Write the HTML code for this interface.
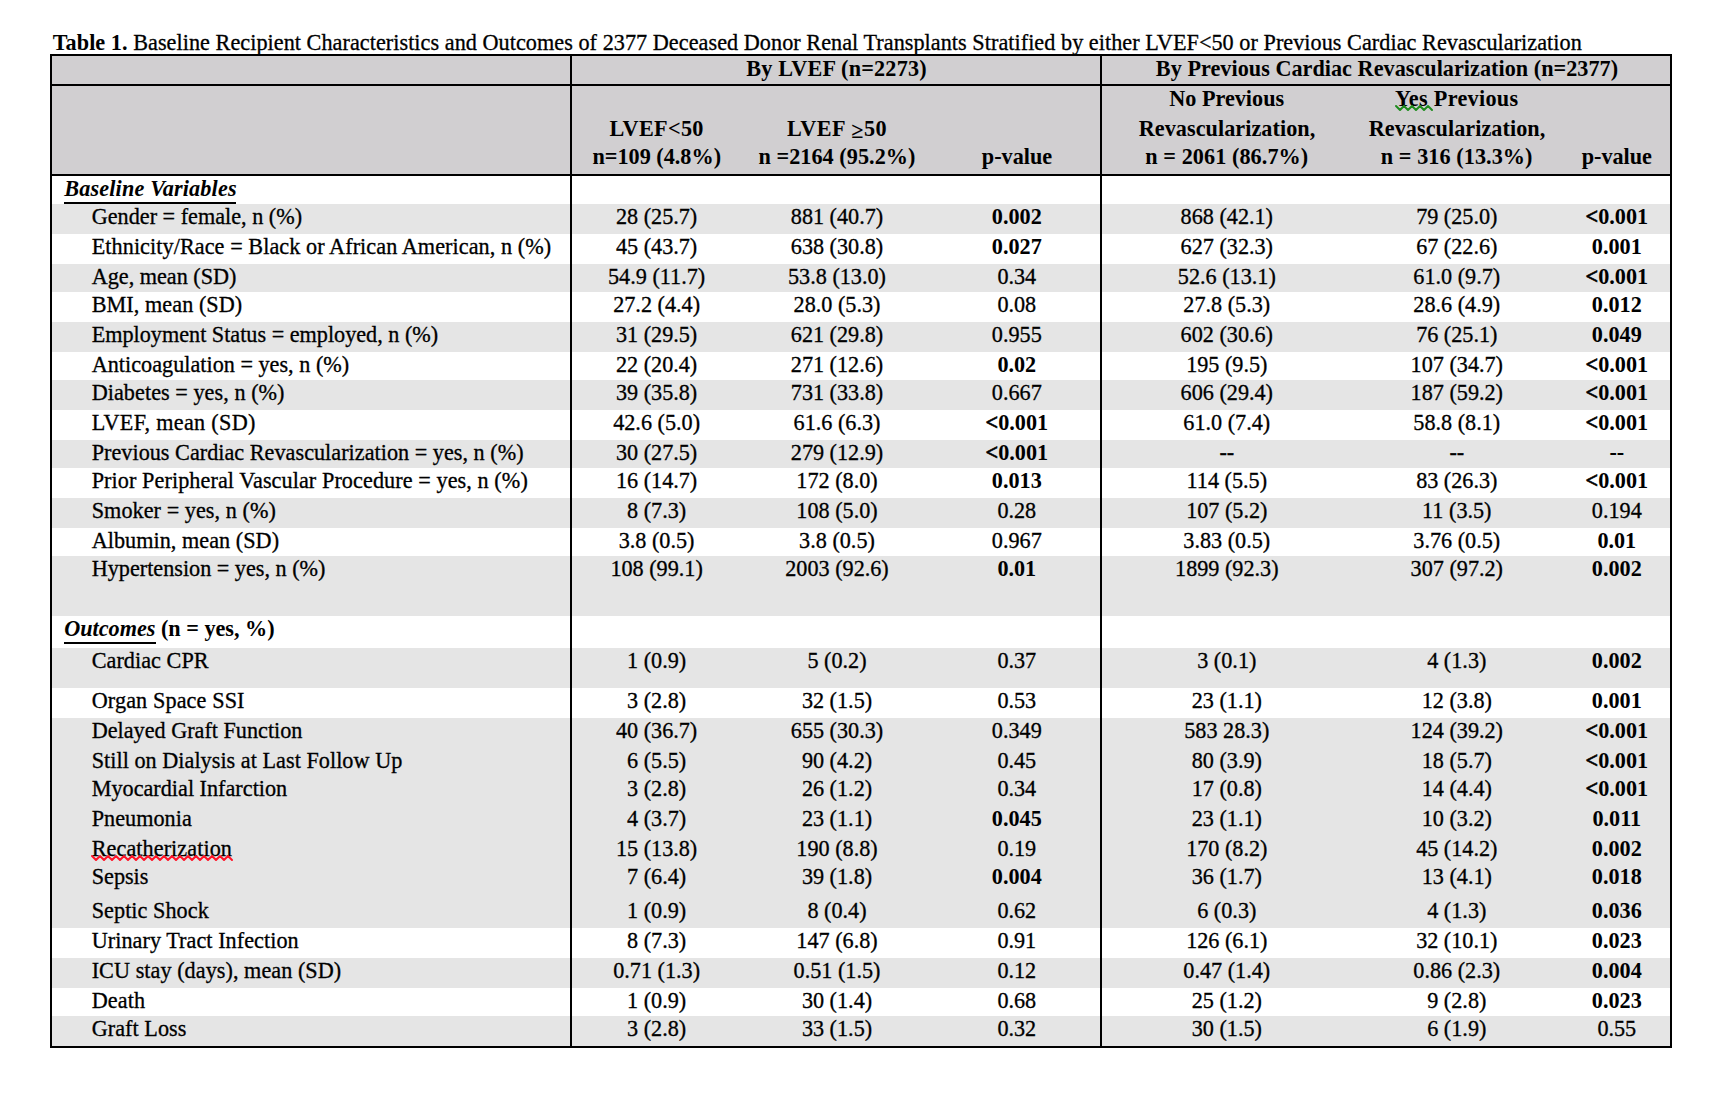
<!DOCTYPE html>
<html><head><meta charset="utf-8"><style>
html,body{margin:0;padding:0;background:#fff;width:1720px;height:1114px;overflow:hidden}
body{position:relative}
div{position:absolute;font-family:"Liberation Serif",serif;font-size:22.2px;line-height:30px;white-space:nowrap;color:#000;-webkit-text-stroke:0.3px #000}
i{position:absolute;display:block}
b{-webkit-text-stroke:0}
</style></head><body>
<i style="left:52px;top:56px;width:1618px;height:118px;background:#d1cfd1"></i>
<i style="left:52px;top:204px;width:1618px;height:30px;background:#e5e5e5"></i>
<i style="left:52px;top:264px;width:1618px;height:28px;background:#e5e5e5"></i>
<i style="left:52px;top:322px;width:1618px;height:30px;background:#e5e5e5"></i>
<i style="left:52px;top:380px;width:1618px;height:30px;background:#e5e5e5"></i>
<i style="left:52px;top:440px;width:1618px;height:28px;background:#e5e5e5"></i>
<i style="left:52px;top:498px;width:1618px;height:30px;background:#e5e5e5"></i>
<i style="left:52px;top:556px;width:1618px;height:60px;background:#e5e5e5"></i>
<i style="left:52px;top:648px;width:1618px;height:40px;background:#e5e5e5"></i>
<i style="left:52px;top:718px;width:1618px;height:210px;background:#e5e5e5"></i>
<i style="left:52px;top:958px;width:1618px;height:30px;background:#e5e5e5"></i>
<i style="left:52px;top:1016px;width:1618px;height:30px;background:#e5e5e5"></i>
<i style="left:50px;top:54px;width:1622px;height:2px;background:#000"></i>
<i style="left:50px;top:1046px;width:1622px;height:2px;background:#000"></i>
<i style="left:50px;top:54px;width:2px;height:994px;background:#000"></i>
<i style="left:1670px;top:54px;width:2px;height:994px;background:#000"></i>
<i style="left:570px;top:54px;width:2px;height:994px;background:#000"></i>
<i style="left:1100px;top:54px;width:2px;height:994px;background:#000"></i>
<i style="left:50px;top:84px;width:1622px;height:2px;background:#000"></i>
<i style="left:50px;top:174px;width:1622px;height:2px;background:#000"></i>
<div style="left:52.8px;top:28px;letter-spacing:0.048px;"><b>Table 1.</b> Baseline Recipient Characteristics and Outcomes of 2377 Deceased Donor Renal Transplants Stratified by either LVEF&lt;50 or Previous Cardiac Revascularization</div>
<div style="left:436.5px;top:54px;width:800px;text-align:center;letter-spacing:0.2px;font-weight:bold;-webkit-text-stroke:0;">By LVEF (n=2273)</div>
<div style="left:987.0px;top:54px;width:800px;text-align:center;letter-spacing:0.03px;font-weight:bold;-webkit-text-stroke:0;">By Previous Cardiac Revascularization (n=2377)</div>
<div style="left:256.6px;top:114px;width:800px;text-align:center;letter-spacing:0.33px;font-weight:bold;-webkit-text-stroke:0;">LVEF&lt;50</div>
<div style="left:256.79999999999995px;top:142px;width:800px;text-align:center;font-weight:bold;-webkit-text-stroke:0;">n=109 (4.8%)</div>
<div style="left:437.0px;top:114px;width:800px;text-align:center;letter-spacing:0.5px;font-weight:bold;-webkit-text-stroke:0;">LVEF <span style="position:relative;top:2px">&ge;</span>50</div>
<div style="left:437.0px;top:142px;width:800px;text-align:center;letter-spacing:0.05px;font-weight:bold;-webkit-text-stroke:0;">n =2164 (95.2%)</div>
<div style="left:617.0px;top:142px;width:800px;text-align:center;font-weight:bold;-webkit-text-stroke:0;">p-value</div>
<div style="left:826.7px;top:84px;width:800px;text-align:center;font-weight:bold;-webkit-text-stroke:0;">No Previous</div>
<div style="left:827.0px;top:114px;width:800px;text-align:center;letter-spacing:0.06px;font-weight:bold;-webkit-text-stroke:0;">Revascularization,</div>
<div style="left:826.8px;top:142px;width:800px;text-align:center;letter-spacing:0.08px;font-weight:bold;-webkit-text-stroke:0;">n = 2061 (86.7%)</div>
<div style="left:1056.7px;top:84px;width:800px;text-align:center;letter-spacing:0.3px;font-weight:bold;-webkit-text-stroke:0;">Yes Previous</div>
<div style="left:1057.0px;top:114px;width:800px;text-align:center;letter-spacing:0.06px;font-weight:bold;-webkit-text-stroke:0;">Revascularization,</div>
<div style="left:1056.7px;top:142px;width:800px;text-align:center;letter-spacing:0.07px;font-weight:bold;-webkit-text-stroke:0;">n = 316 (13.3%)</div>
<div style="left:1216.8px;top:142px;width:800px;text-align:center;font-weight:bold;-webkit-text-stroke:0;">p-value</div>
<div style="left:64.2px;top:174px;letter-spacing:0.17px;font-weight:bold;-webkit-text-stroke:0;"><span style="font-style:italic">Baseline Variables</span></div>
<i style="left:64px;top:202px;width:172px;height:2px;background:#000"></i>
<div style="left:64.2px;top:614px;font-weight:bold;-webkit-text-stroke:0;"><span style="font-style:italic">Outcomes</span> (n = yes, %)</div>
<i style="left:64px;top:642px;width:92px;height:2px;background:#000"></i>
<div style="left:91.7px;top:202px;letter-spacing:0.009px;">Gender = female, n (%)</div>
<div style="left:256.6px;top:202px;width:800px;text-align:center;">28 (25.7)</div>
<div style="left:437.0px;top:202px;width:800px;text-align:center;">881 (40.7)</div>
<div style="left:616.8px;top:202px;width:800px;text-align:center;font-weight:bold;-webkit-text-stroke:0;">0.002</div>
<div style="left:826.8px;top:202px;width:800px;text-align:center;">868 (42.1)</div>
<div style="left:1056.8px;top:202px;width:800px;text-align:center;">79 (25.0)</div>
<div style="left:1216.8px;top:202px;width:800px;text-align:center;font-weight:bold;-webkit-text-stroke:0;"><span style="-webkit-text-stroke:0.6px #000">&lt;</span>0.001</div>
<div style="left:91.7px;top:232px;letter-spacing:0.071px;">Ethnicity/Race = Black or African American, n (%)</div>
<div style="left:256.6px;top:232px;width:800px;text-align:center;">45 (43.7)</div>
<div style="left:437.0px;top:232px;width:800px;text-align:center;">638 (30.8)</div>
<div style="left:616.8px;top:232px;width:800px;text-align:center;font-weight:bold;-webkit-text-stroke:0;">0.027</div>
<div style="left:826.8px;top:232px;width:800px;text-align:center;">627 (32.3)</div>
<div style="left:1056.8px;top:232px;width:800px;text-align:center;">67 (22.6)</div>
<div style="left:1216.8px;top:232px;width:800px;text-align:center;font-weight:bold;-webkit-text-stroke:0;">0.001</div>
<div style="left:91.7px;top:262px;letter-spacing:-0.001px;">Age, mean (SD)</div>
<div style="left:256.6px;top:262px;width:800px;text-align:center;">54.9 (11.7)</div>
<div style="left:437.0px;top:262px;width:800px;text-align:center;">53.8 (13.0)</div>
<div style="left:616.8px;top:262px;width:800px;text-align:center;">0.34</div>
<div style="left:826.8px;top:262px;width:800px;text-align:center;">52.6 (13.1)</div>
<div style="left:1056.8px;top:262px;width:800px;text-align:center;">61.0 (9.7)</div>
<div style="left:1216.8px;top:262px;width:800px;text-align:center;font-weight:bold;-webkit-text-stroke:0;"><span style="-webkit-text-stroke:0.6px #000">&lt;</span>0.001</div>
<div style="left:91.7px;top:290px;letter-spacing:0.061px;">BMI, mean (SD)</div>
<div style="left:256.6px;top:290px;width:800px;text-align:center;">27.2 (4.4)</div>
<div style="left:437.0px;top:290px;width:800px;text-align:center;">28.0 (5.3)</div>
<div style="left:616.8px;top:290px;width:800px;text-align:center;">0.08</div>
<div style="left:826.8px;top:290px;width:800px;text-align:center;">27.8 (5.3)</div>
<div style="left:1056.8px;top:290px;width:800px;text-align:center;">28.6 (4.9)</div>
<div style="left:1216.8px;top:290px;width:800px;text-align:center;font-weight:bold;-webkit-text-stroke:0;">0.012</div>
<div style="left:91.7px;top:320px;letter-spacing:-0.001px;">Employment Status = employed, n (%)</div>
<div style="left:256.6px;top:320px;width:800px;text-align:center;">31 (29.5)</div>
<div style="left:437.0px;top:320px;width:800px;text-align:center;">621 (29.8)</div>
<div style="left:616.8px;top:320px;width:800px;text-align:center;">0.955</div>
<div style="left:826.8px;top:320px;width:800px;text-align:center;">602 (30.6)</div>
<div style="left:1056.8px;top:320px;width:800px;text-align:center;">76 (25.1)</div>
<div style="left:1216.8px;top:320px;width:800px;text-align:center;font-weight:bold;-webkit-text-stroke:0;">0.049</div>
<div style="left:91.7px;top:350px;letter-spacing:0.014px;">Anticoagulation = yes, n (%)</div>
<div style="left:256.6px;top:350px;width:800px;text-align:center;">22 (20.4)</div>
<div style="left:437.0px;top:350px;width:800px;text-align:center;">271 (12.6)</div>
<div style="left:616.8px;top:350px;width:800px;text-align:center;font-weight:bold;-webkit-text-stroke:0;">0.02</div>
<div style="left:826.8px;top:350px;width:800px;text-align:center;">195 (9.5)</div>
<div style="left:1056.8px;top:350px;width:800px;text-align:center;">107 (34.7)</div>
<div style="left:1216.8px;top:350px;width:800px;text-align:center;font-weight:bold;-webkit-text-stroke:0;"><span style="-webkit-text-stroke:0.6px #000">&lt;</span>0.001</div>
<div style="left:91.7px;top:378px;letter-spacing:0.050px;">Diabetes = yes, n (%)</div>
<div style="left:256.6px;top:378px;width:800px;text-align:center;">39 (35.8)</div>
<div style="left:437.0px;top:378px;width:800px;text-align:center;">731 (33.8)</div>
<div style="left:616.8px;top:378px;width:800px;text-align:center;">0.667</div>
<div style="left:826.8px;top:378px;width:800px;text-align:center;">606 (29.4)</div>
<div style="left:1056.8px;top:378px;width:800px;text-align:center;">187 (59.2)</div>
<div style="left:1216.8px;top:378px;width:800px;text-align:center;font-weight:bold;-webkit-text-stroke:0;"><span style="-webkit-text-stroke:0.6px #000">&lt;</span>0.001</div>
<div style="left:91.7px;top:408px;letter-spacing:0.300px;">LVEF, mean (SD)</div>
<div style="left:256.6px;top:408px;width:800px;text-align:center;">42.6 (5.0)</div>
<div style="left:437.0px;top:408px;width:800px;text-align:center;">61.6 (6.3)</div>
<div style="left:616.8px;top:408px;width:800px;text-align:center;font-weight:bold;-webkit-text-stroke:0;"><span style="-webkit-text-stroke:0.6px #000">&lt;</span>0.001</div>
<div style="left:826.8px;top:408px;width:800px;text-align:center;">61.0 (7.4)</div>
<div style="left:1056.8px;top:408px;width:800px;text-align:center;">58.8 (8.1)</div>
<div style="left:1216.8px;top:408px;width:800px;text-align:center;font-weight:bold;-webkit-text-stroke:0;"><span style="-webkit-text-stroke:0.6px #000">&lt;</span>0.001</div>
<div style="left:91.7px;top:438px;letter-spacing:0.022px;">Previous Cardiac Revascularization = yes, n (%)</div>
<div style="left:256.6px;top:438px;width:800px;text-align:center;">30 (27.5)</div>
<div style="left:437.0px;top:438px;width:800px;text-align:center;">279 (12.9)</div>
<div style="left:616.8px;top:438px;width:800px;text-align:center;font-weight:bold;-webkit-text-stroke:0;"><span style="-webkit-text-stroke:0.6px #000">&lt;</span>0.001</div>
<div style="left:826.8px;top:438px;width:800px;text-align:center;">--</div>
<div style="left:1056.8px;top:438px;width:800px;text-align:center;">--</div>
<div style="left:1216.8px;top:438px;width:800px;text-align:center;font-weight:bold;-webkit-text-stroke:0;">--</div>
<div style="left:91.7px;top:466px;letter-spacing:0.081px;">Prior Peripheral Vascular Procedure = yes, n (%)</div>
<div style="left:256.6px;top:466px;width:800px;text-align:center;">16 (14.7)</div>
<div style="left:437.0px;top:466px;width:800px;text-align:center;">172 (8.0)</div>
<div style="left:616.8px;top:466px;width:800px;text-align:center;font-weight:bold;-webkit-text-stroke:0;">0.013</div>
<div style="left:826.8px;top:466px;width:800px;text-align:center;">114 (5.5)</div>
<div style="left:1056.8px;top:466px;width:800px;text-align:center;">83 (26.3)</div>
<div style="left:1216.8px;top:466px;width:800px;text-align:center;font-weight:bold;-webkit-text-stroke:0;"><span style="-webkit-text-stroke:0.6px #000">&lt;</span>0.001</div>
<div style="left:91.7px;top:496px;letter-spacing:0.056px;">Smoker = yes, n (%)</div>
<div style="left:256.6px;top:496px;width:800px;text-align:center;">8 (7.3)</div>
<div style="left:437.0px;top:496px;width:800px;text-align:center;">108 (5.0)</div>
<div style="left:616.8px;top:496px;width:800px;text-align:center;">0.28</div>
<div style="left:826.8px;top:496px;width:800px;text-align:center;">107 (5.2)</div>
<div style="left:1056.8px;top:496px;width:800px;text-align:center;">11 (3.5)</div>
<div style="left:1216.8px;top:496px;width:800px;text-align:center;">0.194</div>
<div style="left:91.7px;top:526px;letter-spacing:0.036px;">Albumin, mean (SD)</div>
<div style="left:256.6px;top:526px;width:800px;text-align:center;">3.8 (0.5)</div>
<div style="left:437.0px;top:526px;width:800px;text-align:center;">3.8 (0.5)</div>
<div style="left:616.8px;top:526px;width:800px;text-align:center;">0.967</div>
<div style="left:826.8px;top:526px;width:800px;text-align:center;">3.83 (0.5)</div>
<div style="left:1056.8px;top:526px;width:800px;text-align:center;">3.76 (0.5)</div>
<div style="left:1216.8px;top:526px;width:800px;text-align:center;font-weight:bold;-webkit-text-stroke:0;">0.01</div>
<div style="left:91.7px;top:554px;">Hypertension = yes, n (%)</div>
<div style="left:256.6px;top:554px;width:800px;text-align:center;">108 (99.1)</div>
<div style="left:437.0px;top:554px;width:800px;text-align:center;">2003 (92.6)</div>
<div style="left:616.8px;top:554px;width:800px;text-align:center;font-weight:bold;-webkit-text-stroke:0;">0.01</div>
<div style="left:826.8px;top:554px;width:800px;text-align:center;">1899 (92.3)</div>
<div style="left:1056.8px;top:554px;width:800px;text-align:center;">307 (97.2)</div>
<div style="left:1216.8px;top:554px;width:800px;text-align:center;font-weight:bold;-webkit-text-stroke:0;">0.002</div>
<div style="left:91.7px;top:646px;letter-spacing:0.040px;">Cardiac CPR</div>
<div style="left:256.6px;top:646px;width:800px;text-align:center;">1 (0.9)</div>
<div style="left:437.0px;top:646px;width:800px;text-align:center;">5 (0.2)</div>
<div style="left:616.8px;top:646px;width:800px;text-align:center;">0.37</div>
<div style="left:826.8px;top:646px;width:800px;text-align:center;">3 (0.1)</div>
<div style="left:1056.8px;top:646px;width:800px;text-align:center;">4 (1.3)</div>
<div style="left:1216.8px;top:646px;width:800px;text-align:center;font-weight:bold;-webkit-text-stroke:0;">0.002</div>
<div style="left:91.7px;top:686px;letter-spacing:0.114px;">Organ Space SSI</div>
<div style="left:256.6px;top:686px;width:800px;text-align:center;">3 (2.8)</div>
<div style="left:437.0px;top:686px;width:800px;text-align:center;">32 (1.5)</div>
<div style="left:616.8px;top:686px;width:800px;text-align:center;">0.53</div>
<div style="left:826.8px;top:686px;width:800px;text-align:center;">23 (1.1)</div>
<div style="left:1056.8px;top:686px;width:800px;text-align:center;">12 (3.8)</div>
<div style="left:1216.8px;top:686px;width:800px;text-align:center;font-weight:bold;-webkit-text-stroke:0;">0.001</div>
<div style="left:91.7px;top:716px;">Delayed Graft Function</div>
<div style="left:256.6px;top:716px;width:800px;text-align:center;">40 (36.7)</div>
<div style="left:437.0px;top:716px;width:800px;text-align:center;">655 (30.3)</div>
<div style="left:616.8px;top:716px;width:800px;text-align:center;">0.349</div>
<div style="left:826.8px;top:716px;width:800px;text-align:center;">583 28.3)</div>
<div style="left:1056.8px;top:716px;width:800px;text-align:center;">124 (39.2)</div>
<div style="left:1216.8px;top:716px;width:800px;text-align:center;font-weight:bold;-webkit-text-stroke:0;"><span style="-webkit-text-stroke:0.6px #000">&lt;</span>0.001</div>
<div style="left:91.7px;top:746px;letter-spacing:0.035px;">Still on Dialysis at Last Follow Up</div>
<div style="left:256.6px;top:746px;width:800px;text-align:center;">6 (5.5)</div>
<div style="left:437.0px;top:746px;width:800px;text-align:center;">90 (4.2)</div>
<div style="left:616.8px;top:746px;width:800px;text-align:center;">0.45</div>
<div style="left:826.8px;top:746px;width:800px;text-align:center;">80 (3.9)</div>
<div style="left:1056.8px;top:746px;width:800px;text-align:center;">18 (5.7)</div>
<div style="left:1216.8px;top:746px;width:800px;text-align:center;font-weight:bold;-webkit-text-stroke:0;"><span style="-webkit-text-stroke:0.6px #000">&lt;</span>0.001</div>
<div style="left:91.7px;top:774px;letter-spacing:0.010px;">Myocardial Infarction</div>
<div style="left:256.6px;top:774px;width:800px;text-align:center;">3 (2.8)</div>
<div style="left:437.0px;top:774px;width:800px;text-align:center;">26 (1.2)</div>
<div style="left:616.8px;top:774px;width:800px;text-align:center;">0.34</div>
<div style="left:826.8px;top:774px;width:800px;text-align:center;">17 (0.8)</div>
<div style="left:1056.8px;top:774px;width:800px;text-align:center;">14 (4.4)</div>
<div style="left:1216.8px;top:774px;width:800px;text-align:center;font-weight:bold;-webkit-text-stroke:0;"><span style="-webkit-text-stroke:0.6px #000">&lt;</span>0.001</div>
<div style="left:91.7px;top:804px;letter-spacing:0.026px;">Pneumonia</div>
<div style="left:256.6px;top:804px;width:800px;text-align:center;">4 (3.7)</div>
<div style="left:437.0px;top:804px;width:800px;text-align:center;">23 (1.1)</div>
<div style="left:616.8px;top:804px;width:800px;text-align:center;font-weight:bold;-webkit-text-stroke:0;">0.045</div>
<div style="left:826.8px;top:804px;width:800px;text-align:center;">23 (1.1)</div>
<div style="left:1056.8px;top:804px;width:800px;text-align:center;">10 (3.2)</div>
<div style="left:1216.8px;top:804px;width:800px;text-align:center;font-weight:bold;-webkit-text-stroke:0;">0.011</div>
<div style="left:91.7px;top:834px;letter-spacing:0.072px;">Recatherization</div>
<div style="left:256.6px;top:834px;width:800px;text-align:center;">15 (13.8)</div>
<div style="left:437.0px;top:834px;width:800px;text-align:center;">190 (8.8)</div>
<div style="left:616.8px;top:834px;width:800px;text-align:center;">0.19</div>
<div style="left:826.8px;top:834px;width:800px;text-align:center;">170 (8.2)</div>
<div style="left:1056.8px;top:834px;width:800px;text-align:center;">45 (14.2)</div>
<div style="left:1216.8px;top:834px;width:800px;text-align:center;font-weight:bold;-webkit-text-stroke:0;">0.002</div>
<div style="left:91.7px;top:862px;">Sepsis</div>
<div style="left:256.6px;top:862px;width:800px;text-align:center;">7 (6.4)</div>
<div style="left:437.0px;top:862px;width:800px;text-align:center;">39 (1.8)</div>
<div style="left:616.8px;top:862px;width:800px;text-align:center;font-weight:bold;-webkit-text-stroke:0;">0.004</div>
<div style="left:826.8px;top:862px;width:800px;text-align:center;">36 (1.7)</div>
<div style="left:1056.8px;top:862px;width:800px;text-align:center;">13 (4.1)</div>
<div style="left:1216.8px;top:862px;width:800px;text-align:center;font-weight:bold;-webkit-text-stroke:0;">0.018</div>
<div style="left:91.7px;top:896px;letter-spacing:0.054px;">Septic Shock</div>
<div style="left:256.6px;top:896px;width:800px;text-align:center;">1 (0.9)</div>
<div style="left:437.0px;top:896px;width:800px;text-align:center;">8 (0.4)</div>
<div style="left:616.8px;top:896px;width:800px;text-align:center;">0.62</div>
<div style="left:826.8px;top:896px;width:800px;text-align:center;">6 (0.3)</div>
<div style="left:1056.8px;top:896px;width:800px;text-align:center;">4 (1.3)</div>
<div style="left:1216.8px;top:896px;width:800px;text-align:center;font-weight:bold;-webkit-text-stroke:0;">0.036</div>
<div style="left:91.7px;top:926px;letter-spacing:0.055px;">Urinary Tract Infection</div>
<div style="left:256.6px;top:926px;width:800px;text-align:center;">8 (7.3)</div>
<div style="left:437.0px;top:926px;width:800px;text-align:center;">147 (6.8)</div>
<div style="left:616.8px;top:926px;width:800px;text-align:center;">0.91</div>
<div style="left:826.8px;top:926px;width:800px;text-align:center;">126 (6.1)</div>
<div style="left:1056.8px;top:926px;width:800px;text-align:center;">32 (10.1)</div>
<div style="left:1216.8px;top:926px;width:800px;text-align:center;font-weight:bold;-webkit-text-stroke:0;">0.023</div>
<div style="left:91.7px;top:956px;letter-spacing:0.048px;">ICU stay (days), mean (SD)</div>
<div style="left:256.6px;top:956px;width:800px;text-align:center;">0.71 (1.3)</div>
<div style="left:437.0px;top:956px;width:800px;text-align:center;">0.51 (1.5)</div>
<div style="left:616.8px;top:956px;width:800px;text-align:center;">0.12</div>
<div style="left:826.8px;top:956px;width:800px;text-align:center;">0.47 (1.4)</div>
<div style="left:1056.8px;top:956px;width:800px;text-align:center;">0.86 (2.3)</div>
<div style="left:1216.8px;top:956px;width:800px;text-align:center;font-weight:bold;-webkit-text-stroke:0;">0.004</div>
<div style="left:91.7px;top:986px;letter-spacing:0.100px;">Death</div>
<div style="left:256.6px;top:986px;width:800px;text-align:center;">1 (0.9)</div>
<div style="left:437.0px;top:986px;width:800px;text-align:center;">30 (1.4)</div>
<div style="left:616.8px;top:986px;width:800px;text-align:center;">0.68</div>
<div style="left:826.8px;top:986px;width:800px;text-align:center;">25 (1.2)</div>
<div style="left:1056.8px;top:986px;width:800px;text-align:center;">9 (2.8)</div>
<div style="left:1216.8px;top:986px;width:800px;text-align:center;font-weight:bold;-webkit-text-stroke:0;">0.023</div>
<div style="left:91.7px;top:1014px;letter-spacing:0.044px;">Graft Loss</div>
<div style="left:256.6px;top:1014px;width:800px;text-align:center;">3 (2.8)</div>
<div style="left:437.0px;top:1014px;width:800px;text-align:center;">33 (1.5)</div>
<div style="left:616.8px;top:1014px;width:800px;text-align:center;">0.32</div>
<div style="left:826.8px;top:1014px;width:800px;text-align:center;">30 (1.5)</div>
<div style="left:1056.8px;top:1014px;width:800px;text-align:center;">6 (1.9)</div>
<div style="left:1216.8px;top:1014px;width:800px;text-align:center;">0.55</div>
<svg style="position:absolute;left:0;top:0" width="1720" height="1114"><polyline points="92,856 96,860 100,856 104,860 108,856 112,860 116,856 120,860 124,856 128,860 132,856 136,860 140,856 144,860 148,856 152,860 156,856 160,860 164,856 168,860 172,856 176,860 180,856 184,860 188,856 192,860 196,856 200,860 204,856 208,860 212,856 216,860 220,856 224,860 228,856 232,860" fill="none" stroke="#ff1428" stroke-width="2" stroke-linejoin="round" stroke-linecap="round"/></svg>
<svg style="position:absolute;left:0;top:0" width="1720" height="1114"><polyline points="1396,106 1400,110 1404,106 1408,110 1412,106 1416,110 1420,106 1424,110 1428,106 1432,110" fill="none" stroke="#1e8c1e" stroke-width="2" stroke-linejoin="round" stroke-linecap="round"/></svg>
</body></html>
